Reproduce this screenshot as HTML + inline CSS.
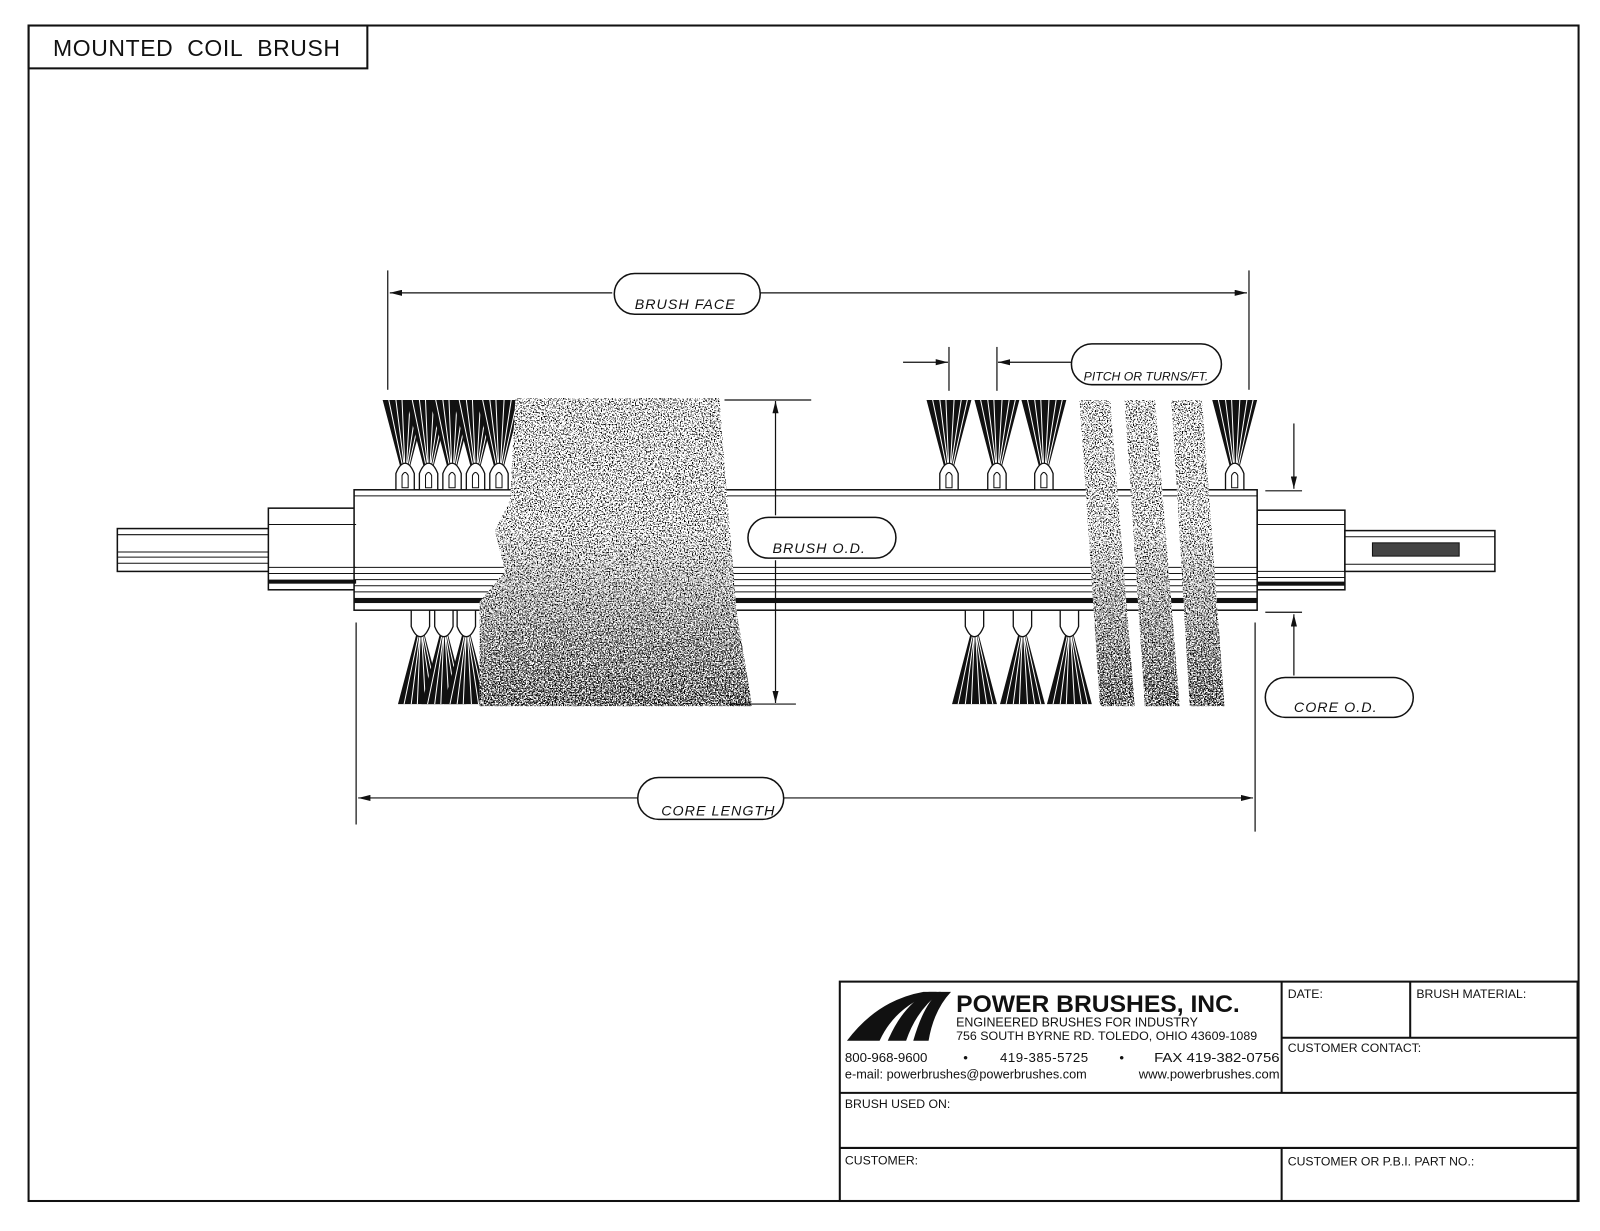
<!DOCTYPE html>
<html><head><meta charset="utf-8"><style>
html,body{margin:0;padding:0;background:#fff}
svg{display:block}
text{font-family:"Liberation Sans",sans-serif;fill:#111}
.it{font-style:italic;font-size:14px;letter-spacing:1px}
</style></head><body>
<svg width="1600" height="1231" viewBox="0 0 1568 1206.4" preserveAspectRatio="none" xmlns="http://www.w3.org/2000/svg">
<defs>
<filter id="st1" x="0" y="0" width="1" height="1"><feTurbulence type="fractalNoise" baseFrequency="0.75" numOctaves="2" seed="3" result="n"/><feColorMatrix in="n" type="matrix" values="0 0 0 0 0 0 0 0 0 0 0 0 0 0 0 0 0 0 -9 4.2"/><feComposite operator="in" in2="SourceGraphic"/></filter>
<filter id="st2" x="0" y="0" width="1" height="1"><feTurbulence type="fractalNoise" baseFrequency="0.75" numOctaves="2" seed="7" result="n"/><feColorMatrix in="n" type="matrix" values="0 0 0 0 0 0 0 0 0 0 0 0 0 0 0 0 0 0 -9 4.6"/><feComposite operator="in" in2="SourceGraphic"/></filter>
<linearGradient id="fade" x1="0" y1="0" x2="0" y2="1"><stop offset="0" stop-color="#fff" stop-opacity="0"/><stop offset="1" stop-color="#fff" stop-opacity="1"/></linearGradient>
<mask id="m" maskUnits="userSpaceOnUse" x="0" y="0" width="1568" height="1207"><rect x="0" y="520" width="1568" height="175" fill="url(#fade)"/></mask>
<marker id="ar" viewBox="0 0 12 6" refX="12" refY="3" markerWidth="12" markerHeight="6" orient="auto" markerUnits="userSpaceOnUse"><path d="M0,0 L12,3 L0,6 z" fill="#111"/></marker>
<g id="tuftD"><path d="M-22,0 L22,0 L2,76 L-2,76 Z" fill="#111"/><path d="M-16,0 L-1,72 M-9,0 L0,72 M-3,0 L0,72 M5,0 L1,72 M12,0 L1,72 M18,0 L2,72" stroke="#fff" stroke-width="1"/><path d="M-9,88 L-9,72 Q-5,62 0,62 Q5,62 9,72 L9,88 Z" fill="#fff" stroke="#111" stroke-width="1.3"/><path d="M-3,86 L-3,74 Q0,68 3,74 L3,86 Z" fill="none" stroke="#111" stroke-width="1"/></g>
<g id="tuftU"><path d="M-22,0 L22,0 L2,-76 L-2,-76 Z" fill="#111"/><path d="M-16,0 L-1,-72 M-9,0 L0,-72 M-3,0 L0,-72 M5,0 L1,-72 M12,0 L1,-72 M18,0 L2,-72" stroke="#fff" stroke-width="1"/><path d="M-9,-92 L-9,-76 Q-5,-66 0,-66 Q5,-66 9,-76 L9,-92 Z" fill="#fff" stroke="#111" stroke-width="1.3"/></g>
</defs>
<rect x="0" y="0" width="1568" height="1207" fill="#fff"/>
<rect x="28" y="25" width="1519" height="1152" fill="none" stroke="#111" stroke-width="2"/>
<rect x="28" y="25" width="332" height="42" fill="none" stroke="#111" stroke-width="2"/>
<text x="52" y="55" font-size="22.5" letter-spacing="0.6">MOUNTED&#160; COIL&#160; BRUSH</text>

<g stroke="#111" fill="#fff" stroke-width="1.5">
<rect x="115" y="518" width="150" height="42"/>
<rect x="263" y="498" width="86" height="80"/>
<rect x="1232" y="500" width="86" height="78"/>
<rect x="1318" y="520" width="147" height="40"/>
<rect x="347" y="480" width="885" height="118"/>
</g>
<g stroke="#111" stroke-width="1">
<line x1="115" y1="524" x2="263" y2="524"/><line x1="115" y1="541" x2="263" y2="541"/><line x1="115" y1="546" x2="263" y2="546"/><line x1="115" y1="552" x2="263" y2="552"/>
<line x1="263" y1="514" x2="349" y2="514"/><line x1="263" y1="556" x2="349" y2="556"/><line x1="263" y1="562" x2="349" y2="562"/>
<line x1="1232" y1="514" x2="1318" y2="514"/><line x1="1232" y1="560" x2="1318" y2="560"/><line x1="1232" y1="566" x2="1318" y2="566"/>
<line x1="1318" y1="526" x2="1465" y2="526"/><line x1="1318" y1="553" x2="1465" y2="553"/>
<line x1="347" y1="486" x2="1232" y2="486"/><line x1="347" y1="556" x2="1232" y2="556"/><line x1="347" y1="562" x2="1232" y2="562"/><line x1="347" y1="568" x2="1232" y2="568"/><line x1="347" y1="574" x2="1232" y2="574"/><line x1="347" y1="580" x2="1232" y2="580"/>
</g>
<rect x="263" y="568" width="86" height="4" fill="#111"/>
<rect x="1232" y="570" width="86" height="4" fill="#111"/>
<rect x="347" y="586" width="885" height="5" fill="#111"/>
<rect x="1345" y="532" width="85" height="13" fill="#444" stroke="#111"/>

<use href="#tuftD" x="397" y="392"/><use href="#tuftD" x="420" y="392"/><use href="#tuftD" x="443" y="392"/><use href="#tuftD" x="466" y="392"/><use href="#tuftD" x="489" y="392"/>
<use href="#tuftU" x="412" y="690"/><use href="#tuftU" x="435" y="690"/><use href="#tuftU" x="457" y="690"/>
<use href="#tuftD" x="930" y="392"/><use href="#tuftD" x="977" y="392"/><use href="#tuftD" x="1023" y="392"/><use href="#tuftD" x="1210" y="392"/>
<use href="#tuftU" x="955" y="690"/><use href="#tuftU" x="1002" y="690"/><use href="#tuftU" x="1048" y="690"/>
<path d="M1085,600 L1095,600 L1100,690 L1090,690 Z M1130,600 L1140,600 L1146,690 L1136,690 Z M1176,600 L1188,600 L1190,690 L1180,690 Z" fill="#111"/>

<g>
<path d="M505,390 L705,390 L712,480 L722,600 L737,692 L470,692 L470,590 L495,560 L485,520 L500,490 Z M1058,392 L1088,392 L1112,692 L1078,692 Z M1102,392 L1132,392 L1156,692 L1122,692 Z M1148,392 L1178,392 L1200,692 L1166,692 Z" fill="#fff"/>
<path d="M505,390 L705,390 L712,480 L722,600 L737,692 L470,692 L470,590 L495,560 L485,520 L500,490 Z M1058,392 L1088,392 L1112,692 L1078,692 Z M1102,392 L1132,392 L1156,692 L1122,692 Z M1148,392 L1178,392 L1200,692 L1166,692 Z" fill="#000" filter="url(#st1)"/>
<g mask="url(#m)">
<path d="M505,390 L705,390 L712,480 L722,600 L737,692 L470,692 L470,590 L495,560 L485,520 L500,490 Z M1058,392 L1088,392 L1112,692 L1078,692 Z M1102,392 L1132,392 L1156,692 L1122,692 Z M1148,392 L1178,392 L1200,692 L1166,692 Z" fill="#000" filter="url(#st2)"/>
</g>
</g>

<g stroke="#111" stroke-width="1.2" fill="none">
<line x1="380" y1="265" x2="380" y2="382"/><line x1="1224" y1="265" x2="1224" y2="382"/>
<line x1="600" y1="287" x2="382" y2="287" marker-end="url(#ar)"/><line x1="745" y1="287" x2="1222" y2="287" marker-end="url(#ar)"/>
<line x1="930" y1="340" x2="930" y2="383"/><line x1="977" y1="340" x2="977" y2="383"/>
<line x1="885" y1="355" x2="929" y2="355" marker-end="url(#ar)"/><line x1="1050" y1="355" x2="978" y2="355" marker-end="url(#ar)"/>
<line x1="710" y1="392" x2="795" y2="392"/><line x1="715" y1="690" x2="780" y2="690"/>
<line x1="760" y1="505" x2="760" y2="393" marker-end="url(#ar)"/><line x1="760" y1="549" x2="760" y2="689" marker-end="url(#ar)"/>
<line x1="1240" y1="481" x2="1276" y2="481"/><line x1="1240" y1="600" x2="1276" y2="600"/>
<line x1="1268" y1="415" x2="1268" y2="479" marker-end="url(#ar)"/><line x1="1268" y1="662" x2="1268" y2="602" marker-end="url(#ar)"/>
<line x1="349" y1="610" x2="349" y2="808"/><line x1="1230" y1="610" x2="1230" y2="815"/>
<line x1="625" y1="782" x2="351" y2="782" marker-end="url(#ar)"/><line x1="768" y1="782" x2="1228" y2="782" marker-end="url(#ar)"/>
</g>
<g stroke="#111" stroke-width="1.5" fill="#fff">
<rect x="602" y="268" width="143" height="40" rx="20"/>
<rect x="1050" y="337" width="147" height="40" rx="20"/>
<rect x="733" y="507" width="145" height="40" rx="20"/>
<rect x="1240" y="664" width="145" height="39" rx="19.5"/>
<rect x="625" y="762" width="143" height="41" rx="20.5"/>
</g>
<text class="it" x="622" y="303">BRUSH FACE</text>
<text class="it" x="1062" y="373" style="font-size:12px;letter-spacing:0">PITCH OR TURNS/FT.</text>
<text class="it" x="757" y="542">BRUSH O.D.</text>
<text class="it" x="1268" y="698">CORE O.D.</text>
<text class="it" x="648" y="799">CORE LENGTH</text>

<g stroke="#111" stroke-width="2" fill="none">
<rect x="823" y="962" width="723" height="215"/>
<line x1="1256" y1="962" x2="1256" y2="1071"/><line x1="1382" y1="962" x2="1382" y2="1017"/>
<line x1="1256" y1="1017" x2="1546" y2="1017"/>
<line x1="823" y1="1071" x2="1546" y2="1071"/><line x1="823" y1="1125" x2="1546" y2="1125"/>
<line x1="1256" y1="1125" x2="1256" y2="1177"/>
</g>
<g fill="#111">
<path d="M830,1020 Q860,980 905,972 L918,972 Q878,985 862,1020 Z"/>
<path d="M870,1020 Q885,985 910,972 L922,972 Q898,990 888,1020 Z"/>
<path d="M895,1020 Q905,985 920,972 L932,972 Q915,990 910,1020 Z"/>
</g>
<text x="937" y="992" font-size="24" font-weight="bold" textLength="278" lengthAdjust="spacingAndGlyphs">POWER BRUSHES, INC.</text>
<text x="937" y="1006" font-size="12.5" textLength="237" lengthAdjust="spacingAndGlyphs">ENGINEERED BRUSHES FOR INDUSTRY</text>
<text x="937" y="1019" font-size="12" textLength="295" lengthAdjust="spacingAndGlyphs">756 SOUTH BYRNE RD. TOLEDO, OHIO 43609-1089</text>
<text x="828" y="1041" font-size="13">800-968-9600</text>
<text x="944" y="1041" font-size="13">•</text>
<text x="980" y="1041" font-size="13" letter-spacing="0.5">419-385-5725</text>
<text x="1097" y="1041" font-size="13">•</text>
<text x="1131" y="1041" font-size="13" textLength="123" lengthAdjust="spacingAndGlyphs">FAX 419-382-0756</text>
<text x="828" y="1057" font-size="12.5" textLength="237" lengthAdjust="spacingAndGlyphs">e-mail: powerbrushes@powerbrushes.com</text>
<text x="1116" y="1057" font-size="12.5" textLength="138" lengthAdjust="spacingAndGlyphs">www.powerbrushes.com</text>
<text x="1262" y="978" font-size="12">DATE:</text>
<text x="1388" y="978" font-size="12">BRUSH MATERIAL:</text>
<text x="1262" y="1031" font-size="12">CUSTOMER CONTACT:</text>
<text x="828" y="1086" font-size="12">BRUSH USED ON:</text>
<text x="828" y="1141" font-size="12">CUSTOMER:</text>
<text x="1262" y="1142" font-size="12">CUSTOMER OR P.B.I. PART NO.:</text>
</svg>
</body></html>
